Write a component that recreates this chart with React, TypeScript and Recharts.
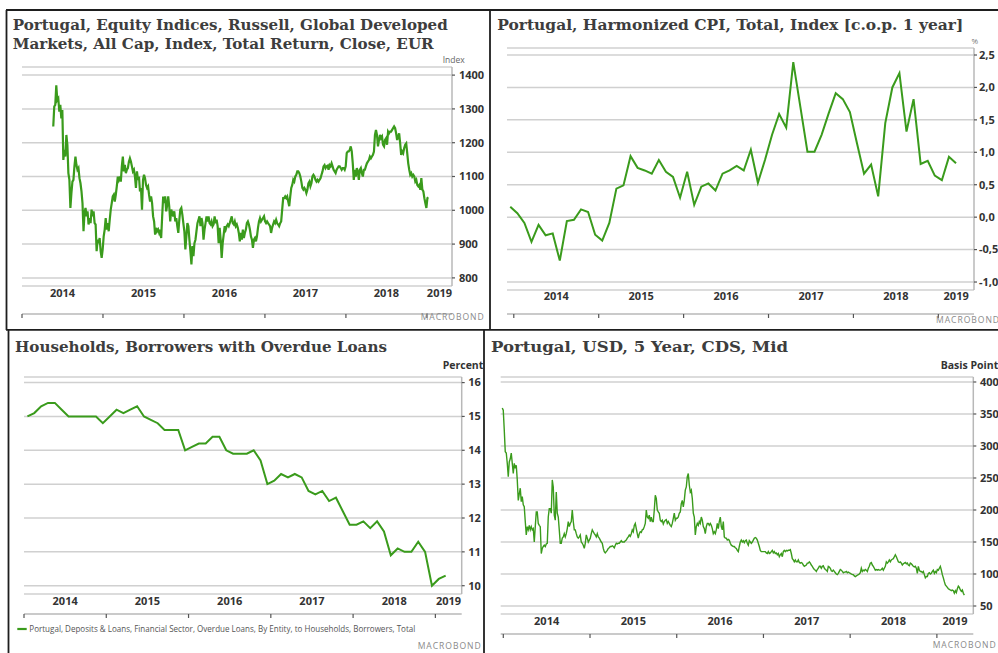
import React from 'react';
import { LineChart, Line, XAxis, YAxis, CartesianGrid } from 'recharts';

// ---------------- DATA ----------------
const yearTicks = [2014, 2015, 2016, 2017, 2018, 2019];

// Panel 1: Russell Portugal equity index (sampled ~80 obs/year)
const equityStart = 2014.386;
const equityObsPerYear = 80.3;
const equityValues = [
  1248, 1307, 1312, 1370, 1326, 1331, 1292, 1312, 1272, 1297,
  1149, 1179, 1159, 1223, 1194, 1110, 1090, 1007, 1051, 1085,
  1090, 1130, 1159, 1134, 1120, 1125, 1095, 1080, 1056, 1021,
  938, 992, 1007, 982, 997, 958, 977, 962, 1002, 982,
  997, 962, 958, 879, 913, 903, 918, 879, 859, 884,
  923, 943, 977, 943, 962, 938, 972, 1002, 1021, 1041,
  1046, 1026, 1046, 1071, 1100, 1090, 1100, 1085, 1130, 1159,
  1115, 1134, 1110, 1120, 1125, 1144, 1154, 1144, 1130, 1115,
  1120, 1100, 1066, 1115, 1090, 1100, 1056, 1066, 1002, 1090,
  1105, 1095, 1075, 1066, 1071, 1046, 1026, 1041, 1021, 982,
  967, 928, 948, 938, 943, 933, 943, 918, 982, 1041,
  1021, 1041, 997, 1016,
  1041, 1012, 967, 1002, 992, 982, 997, 967, 977, 953,
  933, 972, 1002, 1007, 987, 962, 938, 884, 923, 962,
  953, 913, 879, 840, 894, 864, 903, 913, 938, 962,
  972, 982, 953, 977, 962, 913, 943, 962, 982, 967,
  982, 962, 958, 967, 953, 958, 982, 962, 972, 953,
  903, 948, 913, 859, 903, 928, 953, 943, 953, 958,
  953, 962, 972, 982, 962, 958, 967, 953, 958, 948,
  933, 908, 933, 913, 943, 918, 933, 943, 962, 967,
  958, 943, 923, 913, 889, 913, 918, 908, 923, 948,
  967, 977, 967, 972, 977, 982, 967, 962, 967, 962,
  958, 953, 933, 948, 958, 967, 962, 972, 962, 958,
  953, 962, 967, 1002, 1036, 1036, 1041, 1036, 1041, 1026,
  1012, 1041, 1066, 1075, 1090, 1085, 1100, 1105, 1115, 1115,
  1110, 1100, 1085, 1066, 1061, 1066, 1061, 1051, 1061, 1080,
  1085, 1071, 1080, 1100, 1105,
  1100, 1090, 1085, 1090, 1085, 1090, 1095, 1105, 1115, 1130,
  1134, 1125, 1130, 1132, 1120, 1134, 1130, 1139, 1130, 1120,
  1115, 1110, 1120, 1125, 1130, 1130, 1125, 1120, 1125, 1125,
  1120, 1130, 1169, 1174, 1174, 1179, 1189, 1174, 1139, 1090,
  1120, 1100, 1125, 1115, 1090, 1120, 1125, 1110, 1100, 1120,
  1120, 1130, 1139, 1144, 1149, 1159, 1154, 1159, 1164, 1174,
  1223, 1238, 1223, 1189, 1208, 1223, 1213, 1218, 1194, 1189,
  1208, 1213, 1194, 1233, 1228, 1233, 1233, 1238, 1243, 1248,
  1243, 1228, 1208, 1218, 1228, 1198, 1164, 1174, 1169, 1184,
  1194, 1198, 1169, 1139, 1120, 1105, 1110, 1100, 1105, 1100,
  1085, 1090, 1075, 1071, 1075, 1061, 1095, 1061, 1056, 1036,
  1021, 1007, 1036, 1038,
];

// Panel 2: Portugal HICP, % y/y, monthly from Dec 2013
const cpiStartYear = 2013;
const cpiStartMonth = 12;
const cpiValues = [
  0.16, 0.06, -0.09, -0.38, -0.12, -0.28, -0.25, -0.67, -0.06, -0.04,
  0.12, 0.08, -0.27, -0.36, -0.09, 0.44, 0.49, 0.94, 0.76, 0.72,
  0.67, 0.88, 0.70, 0.62, 0.30, 0.70, 0.19, 0.47, 0.52, 0.41,
  0.67, 0.72, 0.79, 0.72, 1.04, 0.53, 0.88, 1.27, 1.59, 1.38,
  2.39, 1.70, 1.01, 1.01, 1.27, 1.60, 1.91, 1.82, 1.62, 1.14,
  0.67, 0.81, 0.32, 1.45, 2.00, 2.22, 1.32, 1.82, 0.82, 0.87,
  0.64, 0.57, 0.93, 0.83,
];

// Panel 3: borrowers with overdue loans, %, monthly from Jan 2014
const loansStartYear = 2014;
const loansStartMonth = 1;
const loansValues = [
  15.0, 15.1, 15.3, 15.4, 15.4, 15.2, 15.0, 15.0, 15.0, 15.0,
  15.0, 14.8, 15.0, 15.2, 15.1, 15.2, 15.3, 15.0, 14.9, 14.8,
  14.6, 14.6, 14.6, 14.0, 14.1, 14.2, 14.2, 14.4, 14.4, 14.0,
  13.9, 13.9, 13.9, 14.0, 13.7, 13.0, 13.1, 13.3, 13.2, 13.3,
  13.2, 12.8, 12.7, 12.8, 12.5, 12.6, 12.2, 11.8, 11.8, 11.9,
  11.7, 11.9, 11.6, 10.9, 11.1, 11.0, 11.0, 11.3, 11.0, 10.0,
  10.2, 10.3,
];

// Panel 4: Portugal USD 5Y CDS, bp (sampled ~86.7 obs/year)
const cdsStart = 2013.988;
const cdsObsPerYear = 86.7;
const cdsValues = [
  359.5, 356, 325, 291, 289, 273, 252, 275, 280, 289,
  273, 257, 273, 265, 270, 247, 215, 225, 234, 213,
  221, 208, 205, 182, 161, 174, 169, 176, 169, 174,
  169, 171, 150, 174, 197, 197, 179, 176, 174, 132,
  140, 143, 145, 143, 147, 148, 189, 202, 202, 195,
  247, 236, 192, 184, 228, 195, 189, 169, 148, 148,
  156, 158, 163, 158, 163, 171, 182, 174, 179, 182,
  200, 182, 169, 169, 163, 158, 156, 158, 161, 150,
  148, 145, 140, 148, 161, 156, 150, 153, 156, 163,
  169, 166, 163, 161, 158, 163, 158, 156, 153, 150,
  148, 140, 135, 133, 135, 137, 140, 141, 143, 143,
  144, 143, 141, 145, 148, 147, 148, 148, 150, 152,
  150, 150, 150, 152, 153, 156, 158, 161, 159, 163,
  169, 166, 176, 179, 171, 163, 156, 163, 166, 165,
  169, 170, 174, 179, 200, 189, 187, 192, 182, 189,
  182, 182, 200, 223, 218, 200, 197, 195, 184, 182,
  184, 178, 182, 184,
  185, 179, 182, 179, 176, 174, 179, 187, 195, 184,
  187, 187, 189, 195, 197, 210, 215, 205, 215, 231,
  236, 252, 257, 239, 228, 231, 218, 195, 189, 161,
  174, 179, 176, 182, 179, 189, 184, 174, 171, 163,
  174, 179, 179, 176, 179, 176, 171, 163, 166, 163,
  169, 179, 171, 182, 189, 174, 169, 182, 158, 156,
  156, 153, 154, 153, 148, 145, 144, 143, 143, 141,
  140, 137, 135, 143, 150, 153, 150, 152, 149, 152,
  153, 148, 145, 152, 150, 148, 150, 153, 156, 157,
  156, 153, 148, 143, 137, 135, 135, 135, 135, 135,
  133, 132, 135, 132, 133, 135, 137, 133, 135, 132,
  133, 130, 132, 127, 130, 132, 127, 135, 137, 135,
  137, 136, 137, 137, 138, 132, 124, 122, 119, 122,
  119, 119, 122, 118, 117, 118, 117, 114, 112, 113,
  114, 117, 117, 119, 117, 114, 112, 109, 107, 106,
  104, 107, 109, 112, 112, 109, 112, 113, 109, 107,
  106, 104, 112, 111, 109,
  105, 104, 106, 104, 102, 100, 99, 101, 104, 107,
  106, 104, 102, 103, 103, 104, 102, 103, 102, 101,
  100, 99, 99, 97, 96, 97, 98, 99, 100, 102,
  109, 104, 106, 105, 107, 106, 104, 109, 112, 117,
  118, 114, 112, 109, 106, 107, 106, 107, 106, 106,
  107, 109, 106, 109, 112, 119, 117, 119, 122, 119,
  122, 123, 124, 127, 130, 127, 123, 119, 118, 119,
  117, 114, 116, 117, 118, 116, 117, 114, 113, 117,
  116, 114, 112, 111, 112, 109, 101, 112, 106, 104,
  104, 102, 104, 99, 94, 96, 96, 101, 102, 100,
  101, 104, 106, 101, 104, 102, 107, 106, 109, 112,
  106, 99, 94, 88, 83, 81, 79, 77, 76, 75,
  74, 75, 74, 70, 74, 71, 77, 81, 79, 75,
  73, 75, 70, 67,
];

const equityTicks = [800, 900, 1000, 1100, 1200, 1300, 1400];
const cpiTicks = [-1, -0.5, 0, 0.5, 1, 1.5, 2, 2.5];
const loansTicks = [10, 11, 12, 13, 14, 15, 16];
const cdsTicks = [50, 100, 150, 200, 250, 300, 350, 400];

// ---------------- BUILD ----------------
type Pt = { x: number; v: number };
const sampled = (start: number, perYear: number, vals: number[]): Pt[] =>
  vals.map((v, i) => ({ x: start + i / perYear, v }));
const monthly = (y: number, m: number, vals: number[]): Pt[] =>
  vals.map((v, i) => ({ x: y + (m - 1 + i + 0.5) / 12, v }));

const equityData = sampled(equityStart, equityObsPerYear, equityValues);
const cpiData = monthly(cpiStartYear, cpiStartMonth, cpiValues);
const loansData = monthly(loansStartYear, loansStartMonth, loansValues);
const cdsData = sampled(cdsStart, cdsObsPerYear, cdsValues);

const GREEN = '#3a9b1c';
const tickStyle = { fontFamily: 'Open Sans', fontWeight: 700, fontSize: 11, fill: '#333' };

type PanelProps = {
  left: number; top: number; width: number; height: number;
  mTop: number; mLeft: number; yWidth: number;
  labelH: number; labelMargin: number; yMargin: number;
  data: Pt[]; xDomain: [number, number]; yDomain: [number, number];
  yTicks: number[]; yFmt?: (v: number) => string; sw: number;
};

function Panel(p: PanelProps) {
  const last = yearTicks[yearTicks.length - 1];
  const labelTicks = [...yearTicks.slice(0, -1).map((y) => y + 0.5), (last + p.xDomain[1]) / 2];
  return (
    <div style={{ position: 'absolute', left: p.left, top: p.top }}>
      <LineChart width={p.width} height={p.height} data={p.data}
        margin={{ top: p.mTop, left: p.mLeft, right: 0, bottom: 0 }}>
        <CartesianGrid xAxisId="t" vertical={false} stroke="#d0d0d0" strokeWidth={1.5} />
        <XAxis xAxisId="t" type="number" dataKey="x" domain={p.xDomain} allowDataOverflow
          ticks={yearTicks} interval={0} tickFormatter={() => ''} height={6} tickSize={4}
          axisLine={{ stroke: '#b8b8b8', strokeWidth: 1.5 }} tickLine={{ stroke: '#555', strokeWidth: 1.2 }} />
        <XAxis xAxisId="l" type="number" dataKey="x" domain={p.xDomain} allowDataOverflow
          ticks={labelTicks} interval={0} tickFormatter={(v: number) => String(Math.floor(v))}
          height={p.labelH} tickSize={0} tickMargin={p.labelMargin} axisLine={false} tickLine={false}
          tick={tickStyle} />
        <YAxis orientation="right" type="number" domain={p.yDomain} allowDataOverflow ticks={p.yTicks}
          interval={0} tickFormatter={p.yFmt} width={p.yWidth} tickSize={3} tickMargin={p.yMargin}
          axisLine={{ stroke: '#b8b8b8', strokeWidth: 1.5 }} tickLine={{ stroke: '#555', strokeWidth: 1.2 }}
          tick={tickStyle} />
        <Line xAxisId="t" type="linear" dataKey="v" stroke={GREEN} strokeWidth={p.sw}
          dot={false} isAnimationActive={false} />
      </LineChart>
    </div>
  );
}

const titleStyle = { fontFamily: 'DejaVu Serif', fontWeight: 700, fontSize: 15, fill: '#3d3d3d' } as const;
const logoStyle = { fontFamily: 'Open Sans', fontSize: 9, fill: '#8a8a8a', letterSpacing: 1 } as const;

export default function App() {
  const comma = (v: number) => v.toFixed(1).replace('.', ',');
  return (
    <div style={{ position: 'absolute', left: 0, top: 0, width: 998, height: 653, overflow: 'hidden', background: '#fff' }}>
      <Panel left={0} top={0} width={490} height={320} mTop={67} mLeft={22} yWidth={38}
        labelH={28} labelMargin={3} yMargin={4} data={equityData}
        xDomain={[2014, 2019.31]} yDomain={[776, 1424]} yTicks={equityTicks} sw={2.2} />
      <Panel left={490} top={0} width={524} height={320} mTop={48} mLeft={17} yWidth={40}
        labelH={24} labelMargin={2.3} yMargin={2} data={cpiData}
        xDomain={[2013.92, 2019.42]} yDomain={[-1.123, 2.608]} yTicks={cpiTicks} yFmt={comma} sw={2} />
      <Panel left={0} top={330} width={484} height={290} mTop={47} mLeft={24} yWidth={22.3}
        labelH={20} labelMargin={2.7} yMargin={3.6} data={loansData}
        xDomain={[2014, 2019.32]} yDomain={[9.755, 16.165]} yTicks={loansTicks} sw={2} />
      <Panel left={484} top={330} width={550} height={310} mTop={47} mLeft={16.7} yWidth={60.7}
        labelH={20} labelMargin={2.7} yMargin={3.7} data={cdsData}
        xDomain={[2013.97, 2019.42]} yDomain={[37.5, 407.8]} yTicks={cdsTicks} sw={1.4} />

      <svg width={998} height={653} style={{ position: 'absolute', left: 0, top: 0, pointerEvents: 'none' }}>
        {/* frames */}
        <g stroke="#1e1e1e" strokeWidth={1.8}>
          <line x1={6.5} y1={10} x2={6.5} y2={330} />
          <line x1={6} y1={10} x2={998} y2={10} />
          <line x1={490} y1={10} x2={490} y2={330} />
          <line x1={6} y1={329.8} x2={998} y2={329.8} />
          <line x1={8.5} y1={330} x2={8.5} y2={653} />
          <line x1={484} y1={330} x2={484} y2={653} />
        </g>

        {/* titles */}
        <text x={12.7} y={30} style={titleStyle} textLength={435} lengthAdjust="spacingAndGlyphs">Portugal, Equity Indices, Russell, Global Developed</text>
        <text x={12.7} y={49} style={titleStyle} textLength={421} lengthAdjust="spacingAndGlyphs">Markets, All Cap, Index, Total Return, Close, EUR</text>
        <text x={497.3} y={30} style={titleStyle} textLength={466} lengthAdjust="spacingAndGlyphs">Portugal, Harmonized CPI, Total, Index [c.o.p. 1 year]</text>
        <text x={15} y={351.7} style={titleStyle} textLength={372} lengthAdjust="spacingAndGlyphs">Households, Borrowers with Overdue Loans</text>
        <text x={491} y={351.7} style={titleStyle} textLength={297} lengthAdjust="spacingAndGlyphs">Portugal, USD, 5 Year, CDS, Mid</text>

        {/* unit labels */}
        <text x={442.7} y={63} style={{ fontFamily: 'Open Sans', fontSize: 8.5, fill: '#666' }}>Index</text>
        <text x={971.5} y={44} style={{ fontFamily: 'Open Sans', fontSize: 8, fill: '#777' }}>%</text>
        <text x={442.7} y={368.5} style={{ fontFamily: 'Open Sans', fontWeight: 700, fontSize: 10.5, fill: '#333' }}>Percent</text>
        <text x={940.7} y={368.5} style={{ fontFamily: 'Open Sans', fontWeight: 700, fontSize: 10.5, fill: '#333' }}>Basis Points</text>

        {/* legend */}
        <line x1={17.3} y1={629} x2={26.7} y2={629} stroke={GREEN} strokeWidth={2.2} />
        <text x={29.3} y={632} style={{ fontFamily: 'Open Sans', fontSize: 8.5, fill: '#555' }} textLength={386} lengthAdjust="spacingAndGlyphs">Portugal, Deposits &amp; Loans, Financial Sector, Overdue Loans, By Entity, to Households, Borrowers, Total</text>

        {/* logos */}
        <text x={420.7} y={320} style={logoStyle} textLength={64} lengthAdjust="spacingAndGlyphs">MACROBOND</text>
        <text x={936} y={322.5} style={logoStyle} textLength={64} lengthAdjust="spacingAndGlyphs">MACROBOND</text>
        <text x={417.7} y={649.3} style={logoStyle} textLength={64} lengthAdjust="spacingAndGlyphs">MACROBOND</text>
        <text x={932.7} y={648.3} style={logoStyle} textLength={64} lengthAdjust="spacingAndGlyphs">MACROBOND</text>
      </svg>
    </div>
  );
}
